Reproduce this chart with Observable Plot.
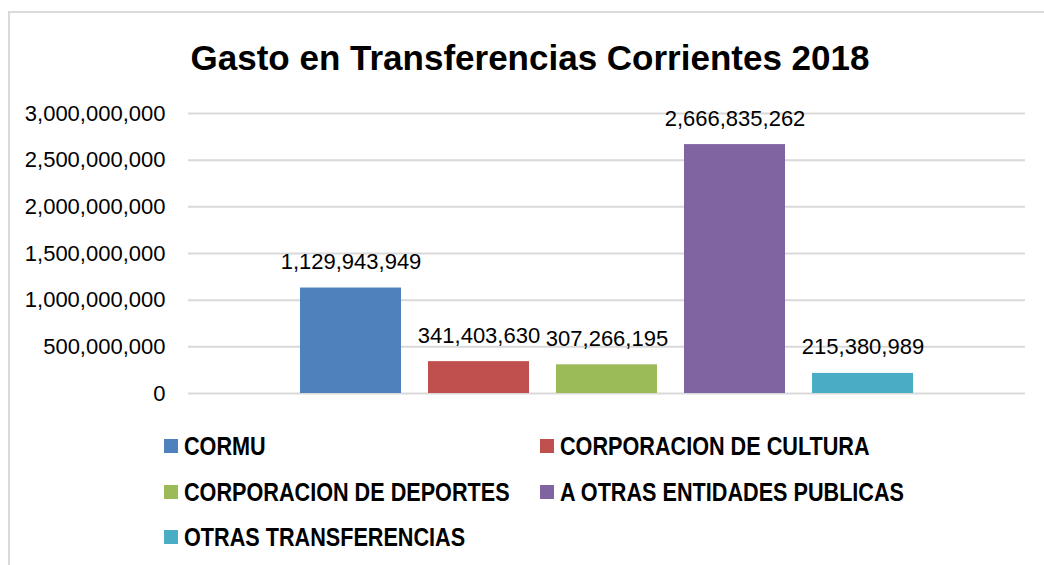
<!DOCTYPE html>
<html>
<head>
<meta charset="utf-8">
<script src="https://cdn.jsdelivr.net/npm/d3@7"></script>
<script src="https://cdn.jsdelivr.net/npm/@observablehq/plot@0.6"></script>
<style>
  html, body { margin: 0; padding: 0; background: #fff; overflow: hidden; }
  #wrap { position: relative; width: 1044px; height: 565px; font-family: "Liberation Sans", Arial, sans-serif; }
  #frame { position: absolute; left: 8px; top: 11px; width: 1100px; height: 600px; border-top: 2px solid #d9d9d9; border-left: 2px solid #d9d9d9; box-sizing: border-box; }
  #title { position: absolute; left: 16px; width: 1028px; top: 40px; text-align: center; font-size: 35px; line-height: 35px; font-weight: bold; color: #000; }
  #chart { position: absolute; left: 0; top: 0; }
  .leg { position: absolute; display: flex; align-items: center; font-family: "Liberation Sans", Arial, sans-serif; font-size: 25px; font-weight: bold; color: #000; line-height: 26px; white-space: nowrap; }
  .leg span { display: inline-block; transform: scaleX(0.865); transform-origin: left center; }
  .sw { width: 14px; height: 14px; margin-right: 6px; flex: none; }
</style>
</head>
<body>
<div id="wrap">
  <div id="frame"></div>
  <div id="chart"></div>
  <div id="title">Gasto en Transferencias Corrientes 2018</div>
  <div id="legend"></div>
</div>
<script>
const categories = ["CORMU", "CORPORACION DE CULTURA", "CORPORACION DE DEPORTES", "A OTRAS ENTIDADES PUBLICAS", "OTRAS TRANSFERENCIAS"];
const values = [1129943949, 341403630, 307266195, 2666835262, 215380989];
const colors = ["#4F81BD", "#C0504D", "#9BBB59", "#8064A2", "#4BACC6"];
const yTicks = [0, 500000000, 1000000000, 1500000000, 2000000000, 2500000000, 3000000000];
const chartTitle = "Gasto en Transferencias Corrientes 2018";

const data = categories.map((c, i) => ({cat: c, value: values[i]}));
const fmt = d3.format(",");

const chart = Plot.plot({
  width: 1044,
  height: 420,
  marginLeft: 188,
  marginRight: 19,
  marginTop: 113,
  marginBottom: 27,
  style: {fontFamily: "'Liberation Sans', Arial, sans-serif", color: "#000", background: "transparent"},
  x: {domain: categories, range: [284.5, 928.5], paddingInner: 0.21, paddingOuter: 0.105, axis: null},
  y: {domain: [0, 3000000000], label: null},
  color: {domain: categories, range: colors},
  marks: [
    Plot.ruleY(yTicks, {stroke: "#d9d9d9", strokeWidth: 2}),
    Plot.axisY(yTicks, {tickFormat: fmt, tickSize: 0, tickPadding: 23, fontSize: 22, fill: "#000", label: null}),
    Plot.barY(data, {x: "cat", y: "value", fill: "cat"}),
    Plot.text(data, {x: "cat", y: "value", text: d => fmt(d.value), dy: -26, fontSize: 22, fill: "#000"})
  ]
});
document.getElementById("chart").appendChild(chart);
document.getElementById("title").textContent = chartTitle;

const legPos = [[164, 446], [540, 446], [164, 492], [540, 492], [164, 537]];
const legend = document.getElementById("legend");
categories.forEach((c, i) => {
  const item = document.createElement("div");
  item.className = "leg";
  item.style.left = legPos[i][0] + "px";
  item.style.top = (legPos[i][1] - 13) + "px";
  const sw = document.createElement("div");
  sw.className = "sw";
  sw.style.background = colors[i];
  const t = document.createElement("span");
  t.textContent = c;
  item.appendChild(sw);
  item.appendChild(t);
  legend.appendChild(item);
});
</script>
</body>
</html>
